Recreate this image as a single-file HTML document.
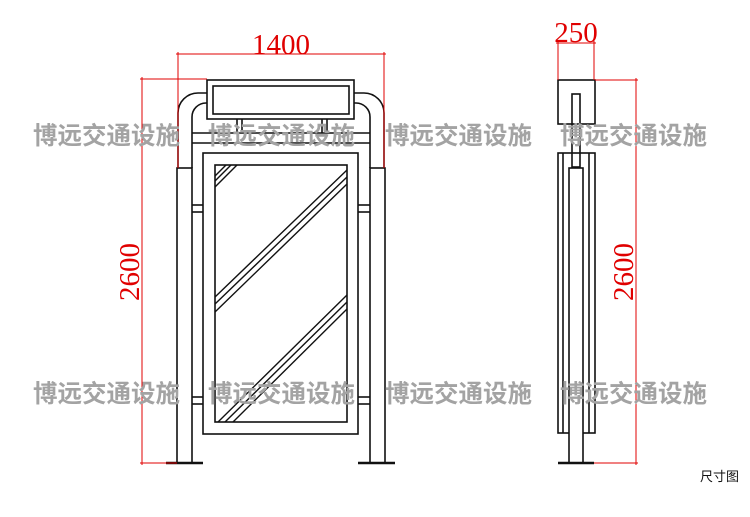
<!DOCTYPE html>
<html><head><meta charset="utf-8"><style>
html,body{margin:0;padding:0;background:#fff}
svg{display:block}
.w{font-family:"Noto Sans CJK SC","WenQuanYi Zen Hei",sans-serif;font-weight:bold;font-size:24.5px;fill:#a3a3a3}
.d{font-family:"Liberation Serif",serif;font-size:29px;fill:#e00000}
</style></head><body>
<svg width="750" height="517" viewBox="0 0 750 517" xmlns="http://www.w3.org/2000/svg">
<g fill="none" stroke="#111" stroke-width="1.6">
<path d="M178 168 V113 A20 20 0 0 1 198 93 H207"/>
<path d="M192 168 V117 A14 14 0 0 1 206 103 H207"/>
<path d="M384 168 V113 A20 20 0 0 0 364 93 H354"/>
<path d="M370 168 V117 A14 14 0 0 0 356 103 H354"/>
<rect x="207" y="80" width="147" height="39"/>
<rect x="213" y="86" width="136" height="28"/>
<line x1="237" y1="119" x2="237" y2="133"/><line x1="242" y1="119" x2="242" y2="133"/>
<line x1="322" y1="119" x2="322" y2="133"/><line x1="327" y1="119" x2="327" y2="133"/>
<line x1="192" y1="133" x2="370" y2="133"/><line x1="192" y1="143" x2="370" y2="143"/>
<rect x="177" y="168" width="15" height="295"/>
<rect x="370" y="168" width="15" height="295"/>
<rect x="203" y="153" width="155" height="281"/>
<rect x="215" y="165" width="132" height="257"/>
<line x1="192" y1="205" x2="203" y2="205"/><line x1="192" y1="212" x2="203" y2="212"/>
<line x1="358" y1="205" x2="370" y2="205"/><line x1="358" y1="212" x2="370" y2="212"/>
<line x1="192" y1="397" x2="203" y2="397"/><line x1="192" y1="404" x2="203" y2="404"/>
<line x1="358" y1="397" x2="370" y2="397"/><line x1="358" y1="404" x2="370" y2="404"/>
<g stroke-width="1.4">
<line x1="215" y1="176" x2="226" y2="165"/><line x1="215" y1="181" x2="231" y2="165"/><line x1="215" y1="187" x2="237" y2="165"/>
<line x1="347" y1="170" x2="215" y2="297"/><line x1="347" y1="177" x2="215" y2="304"/><line x1="347" y1="184" x2="215" y2="312"/>
<line x1="347" y1="295" x2="218" y2="422"/><line x1="347" y1="302" x2="225" y2="422"/><line x1="347" y1="309" x2="233" y2="422"/>
</g>
<rect x="558" y="80" width="37" height="44"/>
<rect x="572" y="94" width="8" height="73"/>
<rect x="558" y="153" width="37" height="280"/>
<line x1="563" y1="153" x2="563" y2="433"/><line x1="589" y1="153" x2="589" y2="433"/>
<rect x="569" y="168" width="14" height="295" fill="#fff"/>
</g>
<g stroke="#111" stroke-width="2.5">
<line x1="166" y1="463" x2="203" y2="463"/>
<line x1="358" y1="463" x2="395" y2="463"/>
<line x1="558" y1="463" x2="594" y2="463"/>
</g>
<g stroke="#e00000" stroke-width="1" fill="none">
<line x1="176" y1="54" x2="386" y2="54"/>
<line x1="178" y1="52" x2="178" y2="168"/><line x1="384" y1="52" x2="384" y2="168"/>
<line x1="140" y1="79" x2="207" y2="79"/><line x1="140" y1="463" x2="177" y2="463"/>
<line x1="142" y1="77" x2="142" y2="465"/>
<line x1="558" y1="41" x2="558" y2="80"/><line x1="594" y1="41" x2="594" y2="80"/>
<line x1="556" y1="43" x2="596" y2="43"/>
<line x1="595" y1="80" x2="638" y2="80"/><line x1="594" y1="463" x2="638" y2="463"/>
<line x1="636" y1="78" x2="636" y2="465"/>
</g>
<text class="d" x="281" y="54" text-anchor="middle">1400</text>
<text class="d" x="576" y="42" text-anchor="middle" font-size="27">250</text>
<text class="d" transform="translate(139,272) rotate(-90)" text-anchor="middle" font-size="31">2600</text>
<text class="d" transform="translate(633,272) rotate(-90)" text-anchor="middle" font-size="31">2600</text>
<g class="w">
<text x="33" y="144">博远交通设施</text><text x="208" y="144">博远交通设施</text>
<text x="385" y="144">博远交通设施</text><text x="560" y="144">博远交通设施</text>
<text x="33" y="402">博远交通设施</text><text x="208" y="402">博远交通设施</text>
<text x="385" y="402">博远交通设施</text><text x="560" y="402">博远交通设施</text>
</g>
<text x="700" y="481" font-family="Noto Sans CJK SC, sans-serif" font-size="13" fill="#111">尺寸图</text>
</svg>
</body></html>
